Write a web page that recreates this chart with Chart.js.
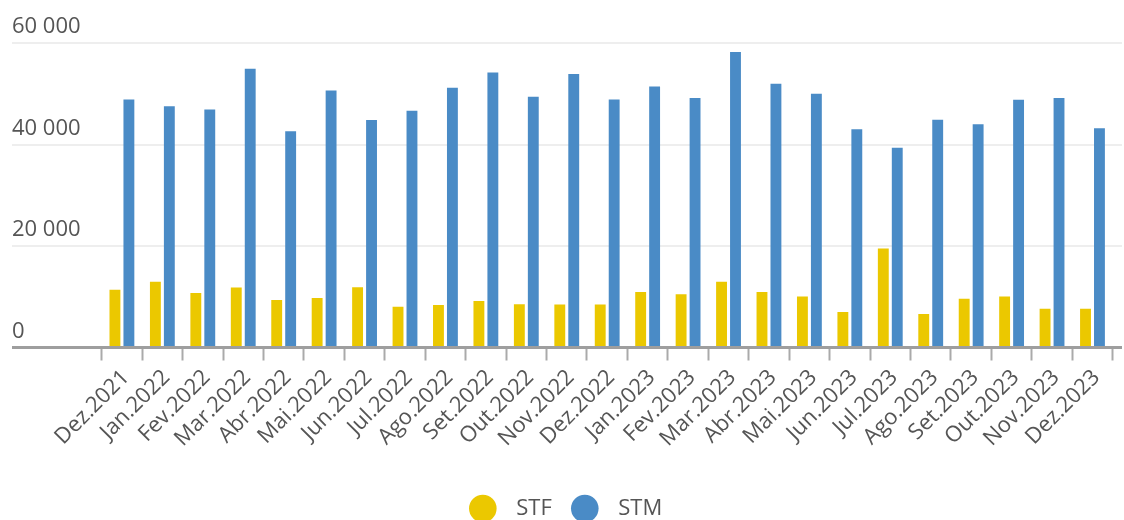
<!DOCTYPE html>
<html>
<head>
<meta charset="utf-8">
<script src="https://cdn.jsdelivr.net/npm/chart.js@4/dist/chart.umd.min.js"></script>
<style>
  html, body { margin: 0; padding: 0; background: #ffffff; }
  #wrap { width: 1124px; height: 520px; overflow: hidden; }
</style>
</head>
<body>
<div id="wrap"><canvas id="c" width="1124" height="520"></canvas></div>
<script>
const categories = ['Dez.2021','Jan.2022','Fev.2022','Mar.2022','Abr.2022','Mai.2022','Jun.2022','Jul.2022','Ago.2022','Set.2022','Out.2022','Nov.2022','Dez.2022','Jan.2023','Fev.2023','Mar.2023','Abr.2023','Mai.2023','Jun.2023','Jul.2023','Ago.2023','Set.2023','Out.2023','Nov.2023','Dez.2023'];
const stfValues = [11360, 12940, 10760, 11810, 9370, 9770, 11870, 8050, 8380, 9180, 8510, 8450, 8450, 10950, 10490, 12940, 10950, 10030, 7000, 19530, 6600, 9630, 10030, 7660, 7660];
const stmValues = [48860, 47550, 46900, 54940, 42600, 50640, 44850, 46630, 51180, 54200, 49400, 53890, 48860, 51440, 49140, 58240, 51970, 49990, 43000, 39370, 44900, 43990, 48800, 49140, 43200];
const yTickValues = [0, 20000, 40000, 60000];
const yTickLabels = ['0', '20 000', '40 000', '60 000'];
const seriesNames = ['STF', 'STM'];

const FONT = '"Open Sans", "DejaVu Sans", sans-serif';
const TEXT = '#555555';

// category axis occupies only part of the plot width (as in the reference)
const xInsetLeft = 89.7;
const xInsetRight = 9.3;

const xRangePlugin = {
  id: 'xRange',
  afterLayout(chart) {
    const x = chart.scales.x;
    x.left = chart.chartArea.left + xInsetLeft;
    x.right = chart.chartArea.right - xInsetRight;
    x.width = x.right - x.left;
    x.configure();
  }
};

new Chart(document.getElementById('c'), {
  type: 'bar',
  data: {
    labels: categories,
    datasets: [
      { label: seriesNames[0], data: stfValues, backgroundColor: '#EBC800', borderWidth: 0 },
      { label: seriesNames[1], data: stmValues, backgroundColor: '#4A8BC6', borderWidth: 0 }
    ]
  },
  plugins: [xRangePlugin],
  options: {
    responsive: false,
    animation: false,
    devicePixelRatio: 1,
    categoryPercentage: 0.69,
    barPercentage: 0.78,
    layout: { padding: { top: 43, left: 12, right: 2, bottom: -9.5 } },
    plugins: {
      tooltip: { enabled: false },
      legend: {
        position: 'bottom',
        labels: {
          usePointStyle: true,
          pointStyle: 'circle',
          boxHeight: 19.5,
          padding: 22,
          color: TEXT,
          font: { family: FONT, size: 22 },
          generateLabels(chart) {
            return chart.data.datasets.map((ds, i) => ({
              text: '  ' + ds.label,
              fillStyle: ds.backgroundColor,
              strokeStyle: ds.backgroundColor,
              lineWidth: 0,
              pointStyle: 'circle',
              fontColor: TEXT,
              hidden: false,
              datasetIndex: i
            }));
          }
        }
      }
    },
    scales: {
      x: {
        offset: true,
        grid: {
          offset: true,
          drawOnChartArea: false,
          drawTicks: true,
          tickLength: 13,
          tickWidth: 2,
          tickColor: '#aaaaaa',
          color: '#aaaaaa'
        },
        border: { display: false },
        ticks: {
          minRotation: 45,
          maxRotation: 45,
          padding: 4,
          labelOffset: 4,
          color: TEXT,
          font: { family: FONT, size: 22 }
        },
        afterFit(scale) {
          scale.height = 128;
          scale.paddingLeft = 0;
          scale.paddingRight = 0;
        }
      },
      y: {
        min: 0,
        max: 60000,
        afterBuildTicks(scale) {
          scale.ticks = yTickValues.map(v => ({ value: v }));
        },
        grid: {
          drawTicks: false,
          color: (ctx) => (ctx.tick && ctx.tick.value === 0) ? '#9e9e9e' : '#eeeeee',
          lineWidth: (ctx) => (ctx.tick && ctx.tick.value === 0) ? 3 : 2
        },
        border: { display: false },
        ticks: {
          mirror: true,
          padding: 0,
          labelOffset: -16,
          color: TEXT,
          font: { family: FONT, size: 22 },
          callback: (value) => yTickLabels[yTickValues.indexOf(value)]
        },
        afterFit(scale) {
          scale.width = 0;
          scale.paddingTop = 0;
          scale.paddingBottom = 0;
        }
      }
    }
  }
});
</script>
</body>
</html>
